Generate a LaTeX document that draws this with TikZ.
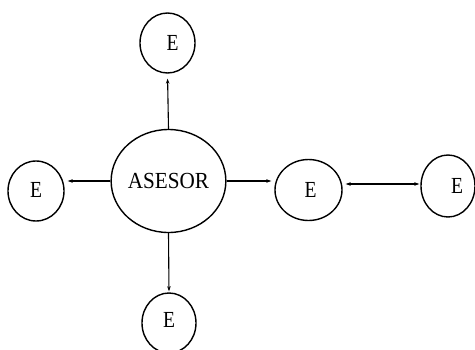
\documentclass[tikz,border=0pt]{standalone}
\usepackage{fontspec}
\setmainfont{Liberation Serif}
\usetikzlibrary{shapes.geometric,arrows.meta}
\begin{document}
\begin{tikzpicture}[x=1pt,y=-1pt,
  circ/.style={ellipse,draw,line width=1.4pt,inner sep=0pt,font=\fontsize{23}{23}\selectfont},
  arr/.style={line width=1.1pt,-{Stealth[length=5pt,width=3.5pt]}},
  darr/.style={line width=1.1pt,{Stealth[length=5pt,width=3.5pt]}-{Stealth[length=5pt,width=3.5pt]}}]
\useasboundingbox (0,0) rectangle (475,349);
\node[circ,minimum width=107pt,minimum height=103pt] (ases) at (168.5,181) {\raisebox{-5pt}{\scalebox{0.92}[1]{ASESOR}}};
\node[circ,minimum width=55pt,minimum height=60pt] (top) at (167.5,43) {\hspace*{10pt}\raisebox{-6pt}{\scalebox{0.85}[1]{E}}};
\node[circ,minimum width=56pt,minimum height=60pt] (left) at (36,191) {\raisebox{2pt}{\scalebox{0.85}[1]{E}}};
\node[circ,minimum width=67pt,minimum height=61pt] (mid) at (308.5,190) {\hspace*{4pt}\scalebox{0.85}[1]{E}};
\node[circ,minimum width=54pt,minimum height=62pt] (far) at (448,186) {\hspace*{18pt}\scalebox{0.85}[1]{E}};
\node[circ,minimum width=54pt,minimum height=60pt] (bot) at (169,323) {\raisebox{6pt}{\scalebox{0.85}[1]{E}}};
\coordinate (hy) at (0,184);
\draw[arr,shorten >=5pt] (ases.north) -- (top.south);
\draw[arr,shorten >=3pt] (ases.west) -- (ases.west -| left.east);
\draw[arr,shorten >=3pt] (ases.east) -- (ases.east -| mid.west);
\draw[darr,shorten <=3pt,shorten >=1pt] (mid.east |- hy) -- (far.west |- hy);
\draw[arr,shorten >=1pt] (ases.south) -- (bot.north);
\end{tikzpicture}
\end{document}
